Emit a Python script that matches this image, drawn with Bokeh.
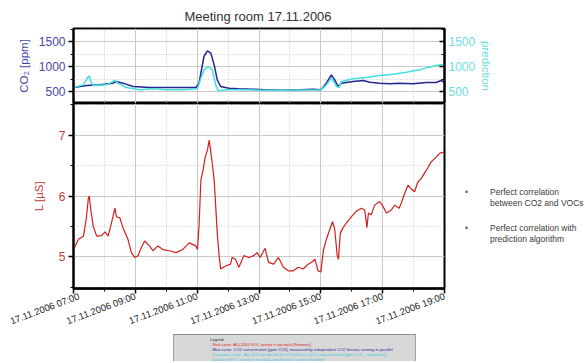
from bokeh.plotting import figure
from bokeh.models import LinearAxis, Range1d, FixedTicker, Div
from bokeh.layouts import column, row
from bokeh.embed import file_html
from bokeh.resources import INLINE

FONT = "Liberation Sans"

# ---------------- data ----------------
title_text = "Meeting room 17.11.2006"

hour_ticks = [7, 9, 11, 13, 15, 17, 19]
hour_minor = [8, 10, 12, 14, 16, 18]
hour_labels = ["17.11.2006 07:00", "17.11.2006 09:00", "17.11.2006 11:00",
               "17.11.2006 13:00", "17.11.2006 15:00", "17.11.2006 17:00",
               "17.11.2006 19:00"]

co2_hours = [7.00, 7.43, 7.86, 8.28, 8.39, 8.60, 8.93, 9.46, 9.99, 10.53, 10.96,
             11.06, 11.15, 11.22, 11.33, 11.44, 11.55, 11.65, 11.76, 12.03, 12.35,
             12.78, 13.20, 13.74, 14.32, 14.75, 15.00, 15.18, 15.34, 15.45, 15.56,
             15.67, 16.04, 16.37, 16.58, 16.90, 17.23, 17.55, 17.98, 18.41, 18.73,
             18.89, 18.98]
co2_ppm = [580, 620, 633, 667, 700, 667, 600, 580, 580, 580, 580,
           667, 967, 1200, 1313, 1267, 1033, 733, 600, 567, 553,
           547, 533, 527, 533, 547, 533, 667, 833, 733, 600,
           667, 700, 720, 687, 667, 653, 667, 653, 680, 680,
           720, 687]

pred_hours = [7.00, 7.32, 7.48, 7.51, 7.56, 7.64, 8.07, 8.34, 8.44, 8.71, 9.14,
              9.57, 9.99, 10.53, 11.01, 11.12, 11.22, 11.36, 11.49, 11.60, 11.68,
              11.92, 12.35, 13.20, 13.68, 15.00, 15.18, 15.34, 15.51, 15.59, 15.67,
              16.04, 16.47, 16.90, 17.33, 17.76, 18.19, 18.51, 18.73, 18.98]
pred_ppm = [580, 633, 800, 810, 700, 620, 633, 720, 667, 580, 533,
            553, 533, 533, 553, 767, 933, 1000, 933, 633, 513,
            533, 533, 527, 527, 533, 633, 767, 600, 580, 700,
            753, 780, 820, 847, 887, 933, 987, 1020, 1047]

voc_hours = [7.00, 7.16, 7.32, 7.41, 7.48, 7.51, 7.56, 7.64, 7.75, 7.91, 8.02,
             8.12, 8.23, 8.34, 8.39, 8.50, 8.60, 8.76, 8.87, 8.98, 9.09, 9.19,
             9.30, 9.46, 9.57, 9.73, 9.89, 10.10, 10.32, 10.53, 10.74, 10.96,
             11.01, 11.06, 11.12, 11.19, 11.26, 11.33, 11.39, 11.44, 11.49, 11.55,
             11.60, 11.65, 11.71, 11.76, 11.92, 12.08, 12.13, 12.24, 12.35, 12.51,
             12.67, 12.83, 12.94, 13.04, 13.15, 13.20, 13.31, 13.47, 13.63, 13.79,
             13.95, 14.11, 14.27, 14.43, 14.59, 14.70, 14.81, 14.91, 15.00, 15.08,
             15.18, 15.29, 15.38, 15.45, 15.53, 15.57, 15.63, 15.72, 15.83, 15.99,
             16.15, 16.31, 16.42, 16.49, 16.54, 16.63, 16.74, 16.90, 17.01, 17.12,
             17.28, 17.39, 17.53, 17.60, 17.71, 17.82, 17.92, 18.03, 18.14, 18.25,
             18.41, 18.57, 18.73, 18.84, 18.97]
voc_us = [5.12, 5.29, 5.34, 5.61, 5.96, 6.00, 5.77, 5.50, 5.34, 5.35, 5.41,
          5.34, 5.56, 5.80, 5.66, 5.64, 5.48, 5.29, 5.07, 4.99, 5.02, 5.15,
          5.26, 5.18, 5.10, 5.18, 5.12, 5.10, 5.07, 5.12, 5.23, 5.18,
          5.12, 5.50, 6.26, 6.42, 6.64, 6.75, 6.92, 6.72, 6.53, 6.26,
          5.83, 5.39, 5.02, 4.80, 4.85, 4.88, 4.99, 4.96, 4.83, 5.02,
          4.99, 5.02, 5.07, 4.99, 5.10, 5.14, 4.91, 4.88, 4.99, 4.83,
          4.77, 4.77, 4.83, 4.80, 4.88, 4.91, 4.96, 4.77, 4.75, 5.10,
          5.29, 5.45, 5.58, 5.45, 5.02, 4.96, 5.39, 5.48, 5.56, 5.66,
          5.75, 5.80, 5.77, 5.48, 5.72, 5.69, 5.85, 5.91, 5.83, 5.72,
          5.77, 5.85, 5.80, 5.88, 6.04, 6.18, 6.12, 6.07, 6.23, 6.29,
          6.42, 6.56, 6.64, 6.70, 6.72]

co2_ticks = [500, 1000, 1500]
co2_minor = [750, 1250, 1750]
voc_ticks = [5, 6, 7]
voc_minor = [4.5, 5.5, 6.5, 7.5]

bullet_lines = [["Perfect correlation", "between CO2 and VOCs"],
                ["Perfect correlation with", "prediction algorithm"]]
legend_lines = [("Legend:", "#222222"),
                ("- Red curve: iAQ-2000 VOC sensor's raw data [Siemens]", "#e02020"),
                ("- Blue curve: CO2 concentration [ppm CO2], measured by independent CO2 Sensor, running in parallel", "#2a2a9a"),
                ("- Turquoise curve: iAQ-2000 prediction of CO2 values = VOC concentration [ppm CO2 - equivalent],", "#40c8e0"),
                ("&nbsp;&nbsp;based on VOC sensor's raw data and Sensor's output algorithm", "#40c8e0")]

BLUE = "#25258f"
BLUE_TXT = "#4848a8"
CYAN = "#45dede"
CYAN_TXT = "#6cdede"
RED = "#d21e1e"
RED_TXT = "#c43a3c"
GRID = "#c9c9c9"

# ---------------- title ----------------
title_div = Div(text=f'<div style="width:500px;text-align:center;font-family:{FONT};'
                     f'font-size:13px;line-height:16px;color:#333;">{title_text}</div>',
                width=569, height=18, margin=0)

# ---------------- top panel ----------------
top = figure(width=569, height=76, x_range=Range1d(7, 19), y_range=Range1d(260, 1760),
             output_backend="svg", toolbar_location=None, margin=0,
             min_border_left=65, min_border_right=133, min_border_top=1, min_border_bottom=0)
top.xaxis.visible = False
top.extra_y_ranges = {"pred": Range1d(260, 1760)}
top.line(co2_hours, co2_ppm, color=BLUE, line_width=1.5)
top.line(pred_hours, pred_ppm, color=CYAN, line_width=1.5, y_range_name="pred")
top.outline_line_color = "black"
top.outline_line_width = 2

lax = top.yaxis[0]
lax.ticker = FixedTicker(ticks=co2_ticks, minor_ticks=co2_minor)
lax.axis_label = "CO₂ [ppm]"
rax = LinearAxis(y_range_name="pred", ticker=FixedTicker(ticks=co2_ticks, minor_ticks=co2_minor),
                 axis_label="prediction")
top.add_layout(rax, "right")
for ax, tc in ((lax, BLUE_TXT), (rax, CYAN_TXT)):
    ax.axis_line_color = "black"
    ax.axis_line_width = 2
    ax.major_tick_line_color = "black"
    ax.minor_tick_line_color = "black"
    ax.major_tick_line_width = 1.5
    ax.major_label_text_color = tc
    ax.major_label_text_font = FONT
    ax.major_label_text_font_size = "12px"
    ax.axis_label_text_color = tc
    ax.axis_label_text_font = FONT
    ax.axis_label_text_font_size = "11.5px"
    ax.axis_label_text_font_style = "normal"
lax.major_tick_out = 5
lax.major_tick_in = 0
lax.minor_tick_out = 3
lax.minor_tick_in = 0
lax.major_label_standoff = 3
lax.axis_label_standoff = 6
rax.major_tick_in = 5
rax.major_tick_out = 0
rax.minor_tick_in = 3
rax.minor_tick_out = 0
rax.major_label_standoff = 4
rax.axis_label_standoff = 2

top.xgrid.ticker = FixedTicker(ticks=hour_ticks, minor_ticks=hour_minor)
top.ygrid.ticker = FixedTicker(ticks=co2_ticks, minor_ticks=co2_minor)
for g in (top.xgrid, top.ygrid):
    g.grid_line_color = GRID
    g.grid_line_width = 1
    g.minor_grid_line_color = GRID
    g.minor_grid_line_dash = "1 2"

# ---------------- bottom panel ----------------
bot = figure(width=448, height=231, x_range=Range1d(7, 19), y_range=Range1d(4.48, 7.52),
             output_backend="svg", toolbar_location=None, margin=0,
             min_border_left=65, min_border_right=12, min_border_top=0, min_border_bottom=41)
bot.line(voc_hours, voc_us, color=RED, line_width=1.2)
bot.outline_line_color = "black"
bot.outline_line_width = 2

xax = bot.xaxis[0]
xax.ticker = FixedTicker(ticks=hour_ticks, minor_ticks=hour_minor)
xax.major_label_overrides = {t: lab for t, lab in zip(hour_ticks, hour_labels)}
xax.major_label_orientation = 0.36
xax.major_label_text_font = FONT
xax.major_label_text_font_size = "9.5px"
xax.major_label_text_color = "#222222"
xax.major_label_standoff = 2
xax.axis_line_color = "black"
xax.axis_line_width = 2.5
xax.major_tick_line_color = "black"
xax.major_tick_line_width = 1.5
xax.major_tick_out = 5
xax.major_tick_in = 0
xax.minor_tick_line_color = "black"
xax.minor_tick_out = 3
xax.minor_tick_in = 0

yax = bot.yaxis[0]
yax.ticker = FixedTicker(ticks=voc_ticks, minor_ticks=voc_minor)
yax.axis_label = "L [µS]"
yax.axis_line_color = "black"
yax.axis_line_width = 2
yax.major_tick_line_color = "black"
yax.major_tick_line_width = 1.5
yax.minor_tick_line_color = "black"
yax.major_tick_out = 5
yax.major_tick_in = 0
yax.minor_tick_out = 3
yax.minor_tick_in = 0
yax.major_label_standoff = 3
yax.major_label_text_color = RED_TXT
yax.major_label_text_font = FONT
yax.major_label_text_font_size = "12px"
yax.axis_label_text_color = RED_TXT
yax.axis_label_text_font = FONT
yax.axis_label_text_font_size = "11.5px"
yax.axis_label_text_font_style = "normal"
yax.axis_label_standoff = 11

bot.xgrid.ticker = FixedTicker(ticks=hour_ticks, minor_ticks=hour_minor)
bot.ygrid.ticker = FixedTicker(ticks=voc_ticks, minor_ticks=voc_minor)
for g in (bot.xgrid, bot.ygrid):
    g.grid_line_color = GRID
    g.grid_line_width = 1
    g.minor_grid_line_color = GRID
    g.minor_grid_line_dash = "1 2"

# ---------------- bullets ----------------
blk = []
for i, lines in enumerate(bullet_lines):
    t = 84 + i * 36
    blk.append(f'<div style="position:absolute;top:{t}px;left:9px;color:#555;">&#8226;</div>')
    blk.append(f'<div style="position:absolute;top:{t}px;left:34px;white-space:nowrap;">'
               + "<br>".join(lines) + '</div>')
bullets_div = Div(text=f'<div style="position:relative;width:121px;height:231px;font-family:{FONT};'
                       f'font-size:8.5px;line-height:11px;color:#3a3a3a;">' + "".join(blk) + '</div>',
                  width=121, height=231, margin=0)

# ---------------- legend box ----------------
leg_html = "".join(f'<div style="color:{c};white-space:nowrap;">{t}</div>' for t, c in legend_lines)
legend_div = Div(text=(f'<div style="margin-left:165px;width:243px;height:27px;overflow:hidden;'
                       f'background:#d8d8d8;border-top:1px solid #8c8c8c;border-left:1px solid #a0a0a0;'
                       f'border-right:1px solid #a0a0a0;box-sizing:border-box;position:relative;">'
                       f'<div style="position:absolute;left:36px;top:2px;transform:scale(0.5);'
                       f'transform-origin:0 0;font-family:{FONT};font-size:8px;line-height:10px;">'
                       f'{leg_html}</div></div>'),
                 width=569, height=27, margin=0)

layout = column(title_div, top, row(bot, bullets_div, spacing=0, margin=0),
                legend_div, spacing=0, margin=(9, 0, 0, 8))

open("out.html", "w").write(file_html(layout, INLINE))
